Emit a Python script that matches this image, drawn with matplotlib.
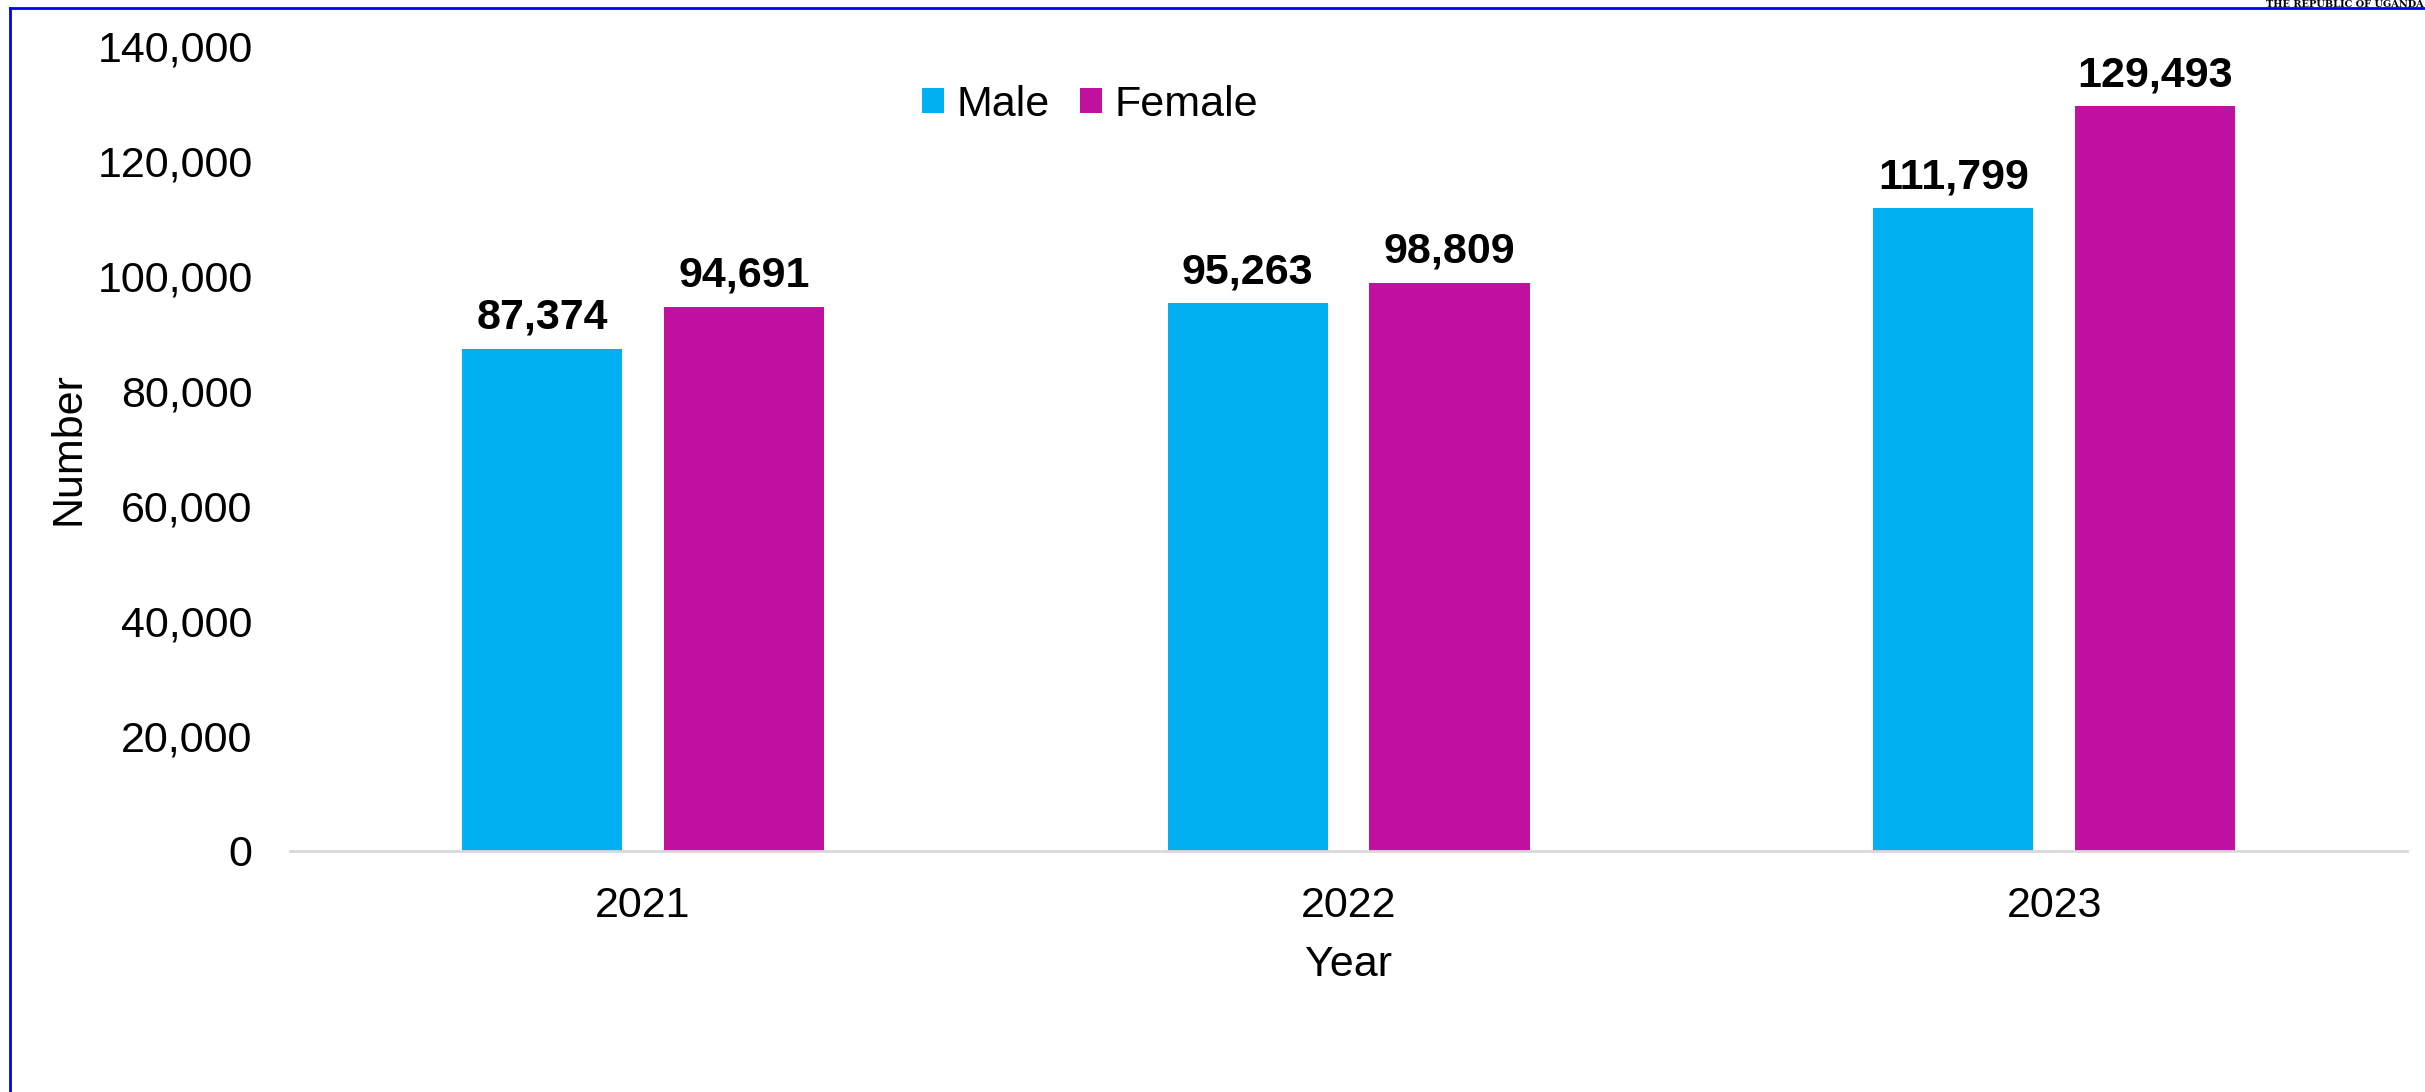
import matplotlib.pyplot as plt
import numpy as np
from matplotlib.lines import Line2D

years = ['2021', '2022', '2023']
male = [87374, 95263, 111799]
female = [94691, 98809, 129493]
yticks = [0, 20000, 40000, 60000, 80000, 100000, 120000, 140000]

male_color = '#00B0F0'
female_color = '#C111A0'

plt.rcParams['font.family'] = ['Liberation Sans', 'DejaVu Sans']

fig = plt.figure(figsize=(24.25, 10.92), dpi=100)
ax = fig.add_axes([0.1196, 0.2207, 0.8730, 0.7372])

x = np.arange(len(years))
w = 0.227
off = 0.143
b1 = ax.bar(x - off, male, w, color=male_color, label='Male', zorder=3)
b2 = ax.bar(x + off, female, w, color=female_color, label='Female', zorder=3)

for bars in (b1, b2):
    for rect in bars:
        v = rect.get_height()
        ax.annotate(f'{v:,.0f}', (rect.get_x() + rect.get_width() / 2, v),
                    xytext=(0, 8), textcoords='offset points',
                    ha='center', va='bottom', fontsize=31, fontweight='bold')

ax.set_xlim(-0.5, 2.5)
ax.set_ylim(0, 140000)
ax.set_yticks(yticks)
ax.set_yticklabels([f'{t:,}' for t in yticks])
ax.set_xticks(x)
ax.set_xticklabels(years)
ax.tick_params(axis='y', length=0, pad=27, labelsize=31)
ax.tick_params(axis='x', length=0, pad=25, labelsize=31)

for s in ['top', 'right', 'left']:
    ax.spines[s].set_visible(False)
ax.spines['bottom'].set_color('#d9d9d9')
ax.spines['bottom'].set_linewidth(2)
ax.spines['bottom'].set_zorder(4)

ax.set_ylabel('Number', fontsize=31, labelpad=6)
ax.set_xlabel('Year', fontsize=31, labelpad=14)

ax.legend(loc='upper center', bbox_to_anchor=(0.378, 1.0), ncol=2, frameon=False,
          fontsize=31, handlelength=0.5, handleheight=0.5, handletextpad=0.3,
          columnspacing=0.7)

# page border
fig.add_artist(Line2D([10 / 2425, 10 / 2425], [0, 1 - 8 / 1092],
                      transform=fig.transFigure, color='#0000ff', lw=2))
fig.add_artist(Line2D([10 / 2425, 1], [1 - 8 / 1092, 1 - 8 / 1092],
                      transform=fig.transFigure, color='#0000ff', lw=2))
fig.text(0.9995, 1 - 9 / 1092, 'THE REPUBLIC OF UGANDA', fontsize=7,
         family='serif', fontweight='bold', ha='right', va='bottom')

fig.savefig('out.png', dpi=100)
